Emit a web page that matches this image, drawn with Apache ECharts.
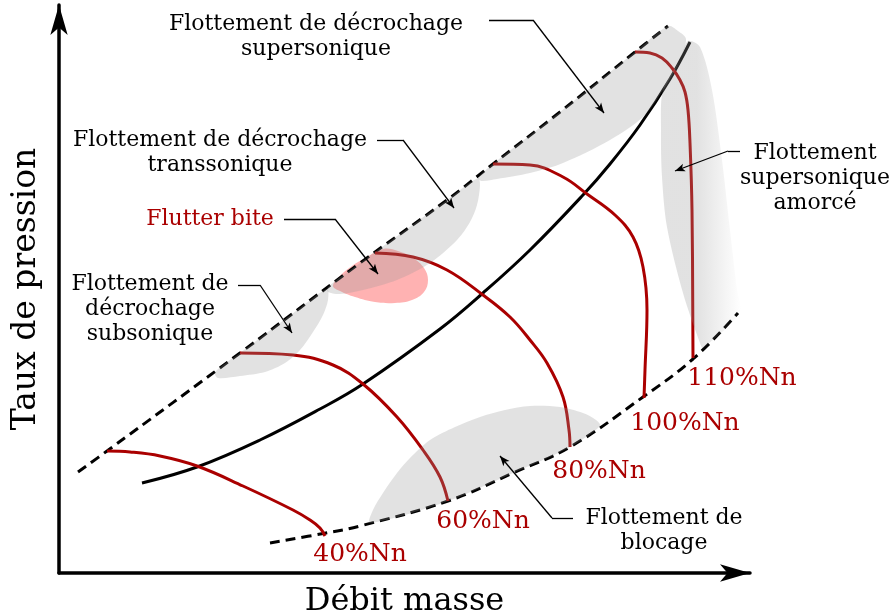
<!DOCTYPE html>
<html><head><meta charset="utf-8">
<script src="https://cdn.jsdelivr.net/npm/echarts@6/dist/echarts.min.js"></script>
<style>html,body{margin:0;padding:0;background:#fff}#c{width:890px;height:614px}</style>
</head><body><div id="c"></div>
<script>
// ---- Data (abstract units: mass flow on x, pressure ratio on y) ----
const surgeLine = [[19,101],[48,122],[181,220],[301,310],[388,373],[434,409],[501,461],[576,521],[609,547]];
const chokeLine = [[211,30],[267,40],[301,47],[389,72],[454,100],[511,126],[584,176],[634,214],[679,260]];
const operatingLine = [[83,90],[138,106],[201,133],[261,164],[304,189],[381,244],[424,280],[471,323],[524,378],[551,409],[581,448],[611,494],[631,531]];
const speed40 = [[48,122],[71,121],[101,117],[138,107],[184,87],[234,63],[251,53],[261,45],[266,37]];
const speed60 = [[181,220],[234,218],[274,208],[304,189],[338,156],[364,123],[381,96],[389,72]];
const speed80 = [[316,320],[354,316],[388,303],[424,278],[451,256],[471,233],[488,210],[504,176],[510,143],[511,126]];
const speed100 = [[434,409],[471,408],[504,396],[528,379],[556,358],[574,336],[584,306],[588,263],[586,203],[585,175]];
const speed110 = [[576,521],[591,520],[603,515],[613,505],[621,493],[626,481],[629,463],[631,430],[633,363],[634,215]];

const zoneSupersonicStall = [[419,395],[434,409],[501,461],[576,521],[609,547],[619,542],[627,534],[621,513],[604,483],[584,456],[551,433],[504,410],[471,400],[438,394],[423,392]];
const zoneSupersonicStarted = [[604,483],[621,513],[629,532],[641,526],[653,483],[663,413],[671,343],[678,283],[681,261],[644,225],[641,230],[624,280],[608,346],[603,396],[602,443]];
const zoneTranssonic = [[269,286],[301,310],[388,373],[419,395],[421,388],[418,368],[411,351],[398,333],[371,310],[338,293],[304,283],[281,279],[269,281]];
const zoneSubsonic = [[156,201],[181,220],[241,265],[268,284],[269,273],[264,258],[254,241],[241,223],[226,210],[206,201],[181,197],[159,195]];
const zoneChoke = [[311,50],[389,72],[454,100],[511,126],[541,147],[537,153],[524,160],[501,166],[471,167],[446,163],[421,156],[396,146],[371,133],[351,115],[338,100],[324,80],[314,63]];
const zoneFlutterBite = [[274,287],[281,297],[293,307],[308,316],[324,324],[339,322],[354,315],[365,305],[369,293],[365,281],[353,273],[336,270],[316,271],[296,276],[281,282]];

const speedLabels = ['40%Nn','60%Nn','80%Nn','100%Nn','110%Nn'];
const speedLabelPos = [[301,19],[424,52],[540,102],[626,150],[683,195]];
const noteTexts = ['Flottement de décrochage\nsupersonique','Flottement de décrochage\ntranssonique','Flottement de\ndécrochage\nsubsonique','Flottement\nsupersonique\namorcé','Flottement de\nblocage'];
const notePos = [[257,536],[161,420],[91,264],[756,395],[605,42]];
const flutterText = 'Flutter bite';
const flutterPos = [151,354];
// leader lines: [text end, elbow, arrow tip]
const leaders = [
  [[430,553],[474,553],[545,460]],
  [[318,433],[344,433],[395,365]],
  [[225,354],[276,354],[319,299]],
  [[179,288],[201,288],[233,240]],
  [[681,422],[669,422],[616,402]],
  [[514,55],[493,55],[441,117]]
];
const xTitle = 'Débit masse', yTitle = 'Taux de pression';

// ---- Chart ----
const FONT = 'DejaVu Serif';
const RED = '#aa0000';
const GRAY = 'rgba(150,150,150,0.28)';
const chart = echarts.init(document.getElementById('c'), null, {renderer:'canvas'});

function poly(points, fill, z, smooth){
  return {type:'custom', coordinateSystem:'cartesian2d', z:z, silent:true, clip:false, data:[[0,0]],
    renderItem:(params, api) => ({type:'polygon', shape:{points: points.map(p => api.coord(p)), smooth: smooth}, style:{fill: fill}})};
}
function curve(data, color, z, dashed){
  return {type:'line', data:data, smooth:0.4, showSymbol:false, symbol:'none', z:z, silent:true, clip:false,
    lineStyle:{color:color, width:3, type: dashed ? [10,6] : 'solid', cap:'butt'}};
}

const labelData = [];
speedLabels.forEach((t,i)=>labelData.push({value:[speedLabelPos[i][0], speedLabelPos[i][1]], name:t, label:{color:RED, fontSize:25}}));
noteTexts.forEach((t,i)=>labelData.push({value:[notePos[i][0], notePos[i][1]], name:t, label:{color:'#000', fontSize:22, lineHeight:25}}));
labelData.push({value:flutterPos, name:flutterText, label:{color:RED, fontSize:22}});

const leaderData = [];
leaders.forEach(l=>{
  leaderData.push([{coord:l[0], symbol:'none'},{coord:l[1], symbol:'none'}]);
  leaderData.push([{coord:l[1], symbol:'none'},{coord:l[2], symbol:'arrow'}]);
});

chart.setOption({
  animation:false,
  backgroundColor:'#fff',
  grid:{left:59, top:5, width:691, height:568, containLabel:false, outerBoundsMode:'none'},
  xAxis:{type:'value', min:0, max:691, name:xTitle, nameLocation:'middle', nameGap:13,
    nameTextStyle:{fontFamily:FONT, fontSize:32, color:'#000', verticalAlign:'top'},
    axisLine:{show:true, lineStyle:{color:'#000', width:3.5}, symbol:['none','arrow'], symbolSize:[13,30], symbolOffset:[0,0]},
    axisTick:{show:false}, axisLabel:{show:false}, splitLine:{show:false}},
  yAxis:{type:'value', min:0, max:568, name:yTitle, nameLocation:'middle', nameGap:16, nameRotate:90,
    nameTextStyle:{fontFamily:FONT, fontSize:33, color:'#000'},
    axisLine:{show:true, lineStyle:{color:'#000', width:3.5}, symbol:['none','arrow'], symbolSize:[13,30], symbolOffset:[0,0]},
    axisTick:{show:false}, axisLabel:{show:false}, splitLine:{show:false}},
  series:[
    poly(zoneFlutterBite, 'rgba(255,85,85,0.45)', 1, 0.4),
    curve(surgeLine, '#000', 2, true),
    curve(chokeLine, '#000', 2, true),
    curve(operatingLine, '#000', 2, false),
    curve(speed40, RED, 3, false),
    curve(speed60, RED, 3, false),
    curve(speed80, RED, 3, false),
    curve(speed100, RED, 3, false),
    curve(speed110, RED, 3, false),
    poly(zoneSupersonicStall, GRAY, 4, 0.3),
    poly(zoneSupersonicStarted, new echarts.graphic.LinearGradient(0,0,1,0,[{offset:0,color:GRAY},{offset:0.45,color:GRAY},{offset:1,color:'rgba(150,150,150,0)'}]), 4, 0.3),
    poly(zoneTranssonic, GRAY, 4, 0.3),
    poly(zoneSubsonic, GRAY, 4, 0.3),
    poly(zoneChoke, GRAY, 4, 0.3),
    {type:'scatter', z:6, clip:false, silent:true, symbol:'circle', symbolSize:0, itemStyle:{color:'#000', opacity:1},
      data:labelData,
      label:{show:true, position:'inside', formatter:p=>p.name, fontFamily:FONT, align:'center', verticalAlign:'middle', opacity:1, textBorderWidth:0, textShadowBlur:0},
      markLine:{silent:true, animation:false, symbol:['none','none'], symbolSize:[6,10], precision:4,
        lineStyle:{color:'#000', width:1.3, type:'solid', opacity:1}, label:{show:false}, emphasis:{disabled:true},
        data:leaderData}}
  ]
});
</script></body></html>
